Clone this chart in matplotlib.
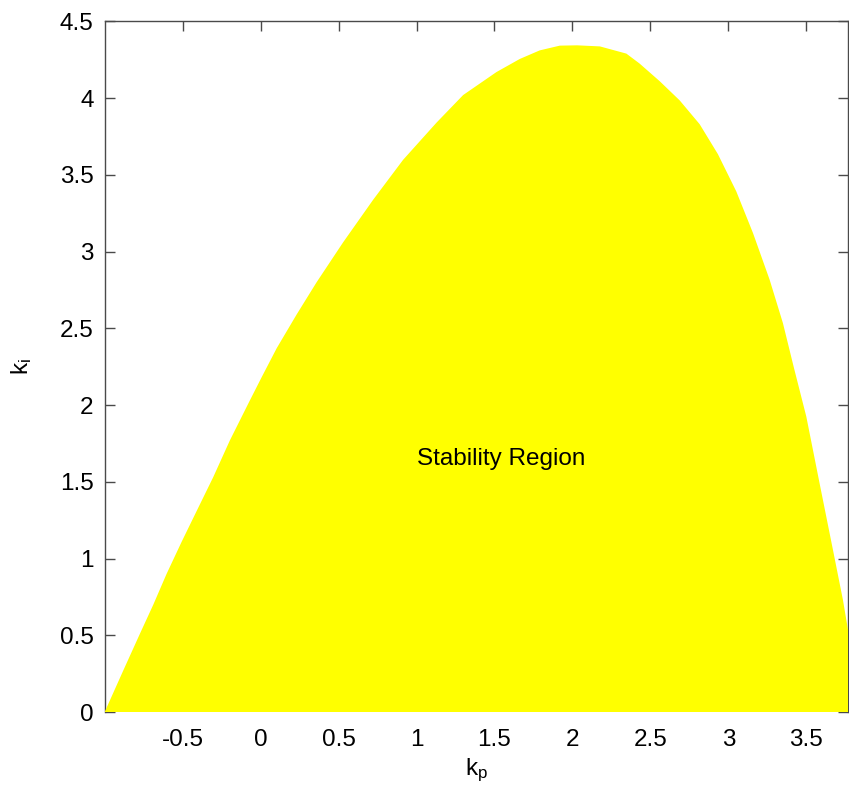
import numpy as np
import matplotlib.pyplot as plt

plt.rcParams['font.family'] = ['Liberation Sans', 'DejaVu Sans']
plt.rcParams['mathtext.fontset'] = 'custom'
plt.rcParams['mathtext.rm'] = 'Liberation Sans'
plt.rcParams['mathtext.it'] = 'Liberation Sans'

# boundary of the stable (kp, ki) region, left branch up to the peak and back down
kp_edge = [-1.0, -0.881, -0.774, -0.688, -0.603, -0.506, -0.410, -0.304, -0.197,
           -0.069, 0.006, 0.103, 0.231, 0.359, 0.529, 0.722, 0.914, 1.128, 1.299,
           1.513, 1.662, 1.790, 1.919, 2.03, 2.176, 2.346, 2.431, 2.560, 2.688,
           2.816, 2.933, 3.051, 3.158, 3.265, 3.350, 3.421, 3.500, 3.585, 3.671,
           3.735, 3.775, 3.874]
ki_edge = [0.0, 0.27, 0.51, 0.70, 0.90, 1.11, 1.31, 1.53, 1.77,
           2.03, 2.18, 2.37, 2.59, 2.80, 3.06, 3.338, 3.598, 3.84, 4.02,
           4.17, 4.255, 4.311, 4.342, 4.344, 4.337, 4.29, 4.225, 4.11, 3.985,
           3.83, 3.635, 3.392, 3.121, 2.816, 2.534, 2.241, 1.925, 1.491, 1.056,
           0.73, 0.49, 0.0]

xticks = [-0.5, 0, 0.5, 1, 1.5, 2, 2.5, 3, 3.5]
yticks = [0, 0.5, 1, 1.5, 2, 2.5, 3, 3.5, 4, 4.5]

fig = plt.figure(figsize=(8.49, 7.92), dpi=100)
ax = fig.add_axes([0.1233, 0.101, 0.876, 0.872])

ax.fill(kp_edge, ki_edge, color='#ffff00', lw=0, zorder=3)
ax.text(1.0, 1.65, 'Stability Region', fontsize=17.5, ha='left', va='center', zorder=4)

ax.set_xlim(-1, 3.77)
ax.set_ylim(0, 4.5)
ax.set_xticks(xticks)
ax.set_yticks(yticks)
ax.set_xticklabels([f'{t:g}' for t in xticks])
ax.set_yticklabels([f'{t:g}' for t in yticks])

for s in ax.spines.values():
    s.set_color('#4a4a4a')
    s.set_linewidth(1.0)
ax.spines['bottom'].set_visible(False)

ax.tick_params(direction='in', length=7, width=1, color='#4a4a4a', labelsize=17.5,
               top=True, right=True, bottom=False)
ax.tick_params(axis='x', pad=12)
ax.tick_params(axis='y', pad=8)

ax.set_xlabel(r'$\mathregular{k_p}$', fontsize=17.5)
ax.set_ylabel(r'$\mathregular{k_i}$', fontsize=17.5)
ax.xaxis.set_label_coords(0.5, -0.065)
ax.yaxis.set_label_coords(-0.095, 0.5)

fig.savefig('out.png', dpi=100)
